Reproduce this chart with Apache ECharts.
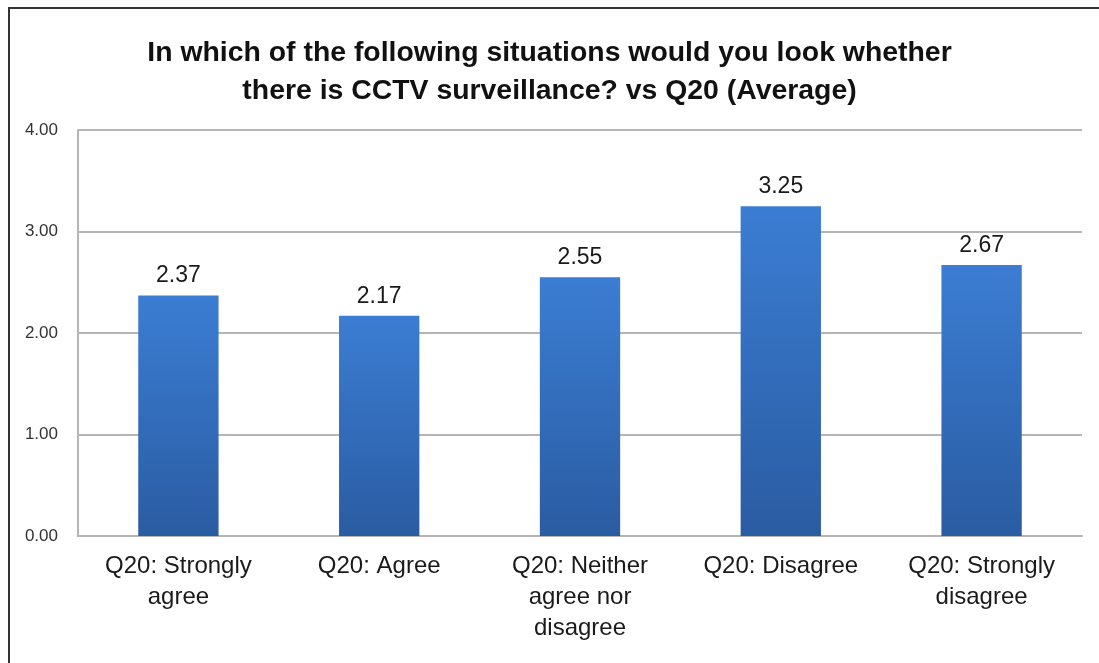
<!DOCTYPE html>
<html>
<head>
<meta charset="utf-8">
<script src="https://cdn.jsdelivr.net/npm/echarts@6/dist/echarts.min.js"></script>
<style>
  html, body { margin: 0; padding: 0; background: #fff; }
  #frame { position: absolute; left: 8px; top: 7px; width: 1091px; height: 656px;
           border-left: 2px solid #333; border-top: 2px solid #333; box-sizing: border-box; }
  #chart { position: absolute; left: 0; top: 0; width: 1099px; height: 663px; }
</style>
</head>
<body>
<div id="frame"></div>
<div id="chart"></div>
<script>
const titleText = 'In which of the following situations would you look whether\nthere is CCTV surveillance? vs Q20 (Average)';
const categories = [
  'Q20: Strongly\nagree',
  'Q20: Agree',
  'Q20: Neither\nagree nor\ndisagree',
  'Q20: Disagree',
  'Q20: Strongly\ndisagree'
];
const averages = [2.37, 2.17, 2.55, 3.25, 2.67];
const yMin = 0, yMax = 4, yStep = 1;

const font = '"Liberation Sans", Arial, sans-serif';
const chart = echarts.init(document.getElementById('chart'), null, { renderer: 'canvas' });
chart.setOption({
  backgroundColor: 'transparent',
  animation: false,
  title: {
    text: titleText,
    left: 'center',
    top: 29,
    textStyle: { fontFamily: font, fontSize: 28.4, fontWeight: 'bold', color: '#111', lineHeight: 38 }
  },
  grid: { left: 78, right: 17, top: 130, bottom: 127, containLabel: false },
  xAxis: {
    type: 'category',
    data: categories,
    axisLine: { show: true, lineStyle: { color: '#b5b5b5', width: 2 } },
    axisTick: { show: false },
    axisLabel: { fontFamily: font, fontSize: 24, color: '#1a1a1a', lineHeight: 31, margin: 15, interval: 0 }
  },
  yAxis: {
    type: 'value',
    min: yMin, max: yMax, interval: yStep,
    axisLine: { show: true, lineStyle: { color: '#b5b5b5', width: 2 } },
    axisTick: { show: false },
    axisLabel: { fontFamily: font, fontSize: 17, color: '#333', margin: 20,
                 formatter: v => v.toFixed(2) },
    splitLine: { show: true, lineStyle: { color: '#b5b5b5', width: 2 } }
  },
  series: [{
    type: 'bar',
    data: averages,
    barWidth: '40%',
    itemStyle: {
      color: new echarts.graphic.LinearGradient(0, 0, 0, 1, [
        { offset: 0, color: '#3b7dd3' },
        { offset: 1, color: '#2a5ca2' }
      ])
    },
    label: {
      show: true, position: 'top', distance: 8,
      fontFamily: font, fontSize: 23, color: '#1a1a1a',
      formatter: p => p.value.toFixed(2)
    }
  }]
});
</script>
</body>
</html>
